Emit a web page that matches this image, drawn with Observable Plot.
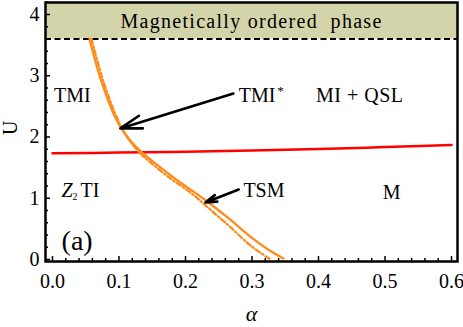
<!DOCTYPE html>
<html>
<head>
<meta charset="utf-8">
<script src="https://cdn.jsdelivr.net/npm/d3@7"></script>
<script src="https://cdn.jsdelivr.net/npm/@observablehq/plot@0.6"></script>
<style>
  html, body { margin: 0; padding: 0; background: white; }
</style>
</head>
<body>
<div id="chart"></div>
<script>
// Axis domains and ticks
const xDomain = [-0.0105, 0.609];
const yDomain = [-0.033, 4.196];
const xMajorTicks = [0, 0.1, 0.2, 0.3, 0.4, 0.5, 0.6];
const xMinorTicks = [0.02, 0.04, 0.06, 0.08, 0.12, 0.14, 0.16, 0.18, 0.22, 0.24, 0.26, 0.28, 0.32, 0.34, 0.36, 0.38, 0.42, 0.44, 0.46, 0.48, 0.52, 0.54, 0.56, 0.58];
const yMajorTicks = [0, 1, 2, 3, 4];
const yMinorTicks = [0.2, 0.4, 0.6, 0.8, 1.2, 1.4, 1.6, 1.8, 2.2, 2.4, 2.6, 2.8, 3.2, 3.4, 3.6, 3.8, 4.2];

// Magnetically ordered band
const bandBottom = 3.6;

// Red boundary (MI+QSL / M)
const redAlpha = [0, 0.1, 0.2, 0.3, 0.4, 0.5, 0.6];
const redU     = [1.735, 1.745, 1.76, 1.78, 1.805, 1.835, 1.87];

// Orange solid boundary
const solidAlpha = [0.0556, 0.0707, 0.0838, 0.0931, 0.1036, 0.1168, 0.1361, 0.1586, 0.188, 0.2286, 0.2632, 0.2970, 0.3241, 0.3474];
const solidU     = [3.6,    3.004,  2.596,  2.351,  2.139,  1.943,  1.731,  1.535,  1.290, 0.980,  0.686,  0.376,  0.163,  0.016];

// Orange dash-dotted boundary
const dashAlpha = [0.0586, 0.0737, 0.0865, 0.0955, 0.1045, 0.1158, 0.1338, 0.1474, 0.1774, 0.2075, 0.2301, 0.2647, 0.2977, 0.3278];
const dashU     = [3.6,    3.004,  2.596,  2.351,  2.139,  1.943,  1.714,  1.584,  1.322,  1.094,  0.882,  0.555,  0.229,  0.0];

// Labels (centres)
const labelText  = ["TMI", "TMI", "MI + QSL", "TSM", "M"];
const labelAlpha = [0.030, 0.3075, 0.462, 0.318, 0.510];
const labelU     = [2.68,  2.67,   2.67,  1.12,  1.10];

// Arrows
const arrowFromAlpha = [0.272, 0.280];
const arrowFromU     = [2.71, 1.143];
const arrowToAlpha   = [0.102, 0.230];
const arrowToU       = [2.14, 0.93];

const red = redAlpha.map((a, i) => ({a, u: redU[i]}));
const solid = solidAlpha.map((a, i) => ({a, u: solidU[i]}));
const dash = dashAlpha.map((a, i) => ({a, u: dashU[i]}));
const labels = labelText.map((t, i) => ({t, a: labelAlpha[i], u: labelU[i]}));
const arrows = arrowFromAlpha.map((a, i) => ({x1: a, y1: arrowFromU[i], x2: arrowToAlpha[i], y2: arrowToU[i]}));

const W = 463, H = 327, mL = 45, mR = 6, mT = 2, mB = 66;
const innerW = W - mL - mR, innerH = H - mT - mB;
const orange = "#ff8c1a";
const font = "\"Liberation Serif\", \"Times New Roman\", serif";

const chart = Plot.plot({
  width: W, height: H,
  marginLeft: mL, marginRight: mR, marginTop: mT, marginBottom: mB,
  style: {fontFamily: font, background: "white", color: "black"},
  x: {domain: xDomain},
  y: {domain: yDomain},
  marks: [
    Plot.rect([{x1: xDomain[0], x2: xDomain[1], y1: bandBottom, y2: yDomain[1]}],
      {x1: "x1", x2: "x2", y1: "y1", y2: "y2", fill: "#d4d4ab"}),
    Plot.ruleY([bandBottom], {stroke: "black", strokeWidth: 2, strokeDasharray: "6,3.5"}),
    // inward ticks
    Plot.tickX(xMajorTicks, {x: d => d, insetTop: innerH - 5, stroke: "black", strokeWidth: 1.5}),
    Plot.tickX(xMinorTicks, {x: d => d, insetTop: innerH - 3, stroke: "black", strokeWidth: 1.5}),
    Plot.tickY(yMajorTicks, {y: d => d, insetRight: innerW - 5, stroke: "black", strokeWidth: 1.5}),
    Plot.tickY(yMinorTicks, {y: d => d, insetRight: innerW - 3, stroke: "black", strokeWidth: 1.5}),
    Plot.axisX(xMajorTicks, {tickSize: 0, tickPadding: 12, fontSize: 20, tickFormat: d3.format(".1f"), label: null}),
    Plot.axisY(yMajorTicks, {tickSize: 0, tickPadding: 6, fontSize: 20, tickFormat: d3.format("d"), label: null}),
    // curves
    Plot.line(red, {x: "a", y: "u", stroke: "#ff0000", strokeWidth: 2.5, curve: "catmull-rom"}),
    Plot.line(solid, {x: "a", y: "u", stroke: orange, strokeWidth: 2.3, curve: "catmull-rom"}),
    Plot.line(dash, {x: "a", y: "u", stroke: orange, strokeWidth: 2.3, strokeDasharray: "5,2.5,1.5,2.5", curve: "catmull-rom"}),
    // arrows
    Plot.arrow(arrows, {x1: "x1", y1: "y1", x2: "x2", y2: "y2", stroke: "black", strokeWidth: 2.6, headLength: 13, headAngle: 34}),
    // labels
    Plot.text(["Magnetically ordered  phase"], {frameAnchor: "top", lineAnchor: "middle", dy: 19, fontSize: 20, fill: "black"}),
    Plot.text(labels, {x: "a", y: "u", text: "t", fontSize: 20, fill: "black"}),
    Plot.text(["*"], {x: () => 0.338, y: () => 2.76, textAnchor: "start", fontSize: 13, fill: "black"}),
    Plot.text(["Z"], {x: () => 0.0135, y: () => 1.12, textAnchor: "start", fontSize: 20, fontStyle: "italic", fill: "black"}),
    Plot.text(["2"], {x: () => 0.030, y: () => 1.03, textAnchor: "start", fontSize: 10, fill: "black"}),
    Plot.text(["TI"], {x: () => 0.042, y: () => 1.12, textAnchor: "start", fontSize: 20, fill: "black"}),
    Plot.text(["(a)"], {x: () => 0.037, y: () => 0.30, fontSize: 28, fill: "black"}),
    Plot.text(["U"], {frameAnchor: "left", dx: -35, dy: 3, rotate: -90, fontSize: 20, fill: "black"}),
    Plot.text(["α"], {frameAnchor: "bottom", lineAnchor: "middle", dy: 52, fontSize: 22, fontStyle: "italic", fill: "black"}),
    Plot.frame({stroke: "black", strokeWidth: 2.5})
  ]
});

chart.querySelectorAll("text").forEach(t => {
  if (t.textContent.startsWith("Magnetically")) { t.style.letterSpacing = "1.3px"; t.style.whiteSpace = "pre"; }
  if (t.textContent === "MI + QSL") { t.style.letterSpacing = "0.5px"; }
});

document.getElementById("chart").appendChild(chart);
</script>
</body>
</html>
